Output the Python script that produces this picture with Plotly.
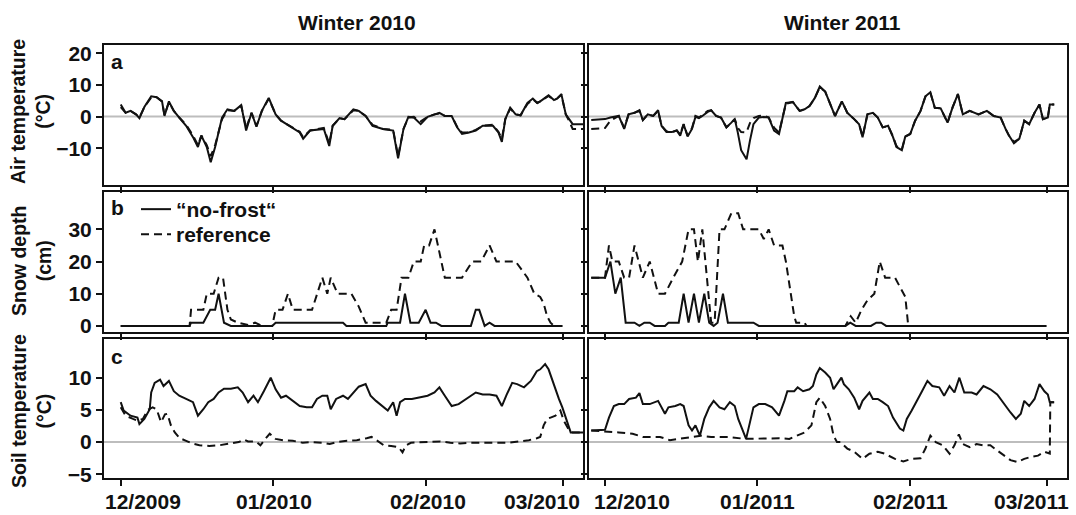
import plotly.graph_objects as go

W, H = 1076, 515

# ---------------- data (day index counted from 1 December of each winter) ----------------
tick_day_2010 = [0, 31, 62, 90]
tick_day_2011 = [0, 31, 62, 90]
label_text_2010 = ["12/2009", "01/2010", "02/2010", "03/2010"]
label_day_2010 = [4.5, 31.1, 62.4, 85.6]
label_text_2011 = ["12/2010", "01/2011", "02/2011", "03/2011"]
label_day_2011 = [5.4, 31.1, 62.2, 86.8]

air_ticks = [-10, 0, 10, 20]
snow_ticks = [0, 10, 20, 30]
soil_ticks = [-5, 0, 5, 10]

# --- air temperature, winter 2010 ---
air10_day = [0, 1.0, 2.0, 3.1, 3.8, 4.8, 6.2, 7.3, 8.4, 8.9, 9.8, 10.8, 11.9, 13.3, 14.7, 15.7, 16.4,
             17.5, 18.3, 19.2, 20.6, 21.7, 23.1, 24.5, 25.5, 26.6, 27.6, 28.7, 30.1, 31.5, 32.6, 34.3,
             36.4, 37.1, 38.5, 41.3, 42.4, 43.1, 44.5, 45.5, 47.3, 48.4, 49.8, 51.2, 53.3, 55.4, 56.4,
             57.5, 58.5, 59.6, 61.0, 62.4, 63.8, 64.8, 65.9, 67.3, 68.4, 69.4, 70.8, 72.2, 73.6, 75.7,
             76.8, 77.5, 78.2, 79.2, 80.3, 81.3, 82.7, 83.8, 84.7, 85.3, 87.0, 88.1, 88.75, 89.6,
             90.5, 91.2, 91.9, 94.2]
air10_nofrost = [3.8, 1.2, 1.8, 0.7, -0.5, 3.0, 6.4, 6.1, 4.8, 0.2, 4.8, 1.8, -0.3, -2.9, -6.5, -9.6, -6.0,
                 -9.6, -14.4, -9.6, -0.3, 2.3, 1.8, 3.6, -4.4, 1.2, -3.2, 1.8, 5.9, 0.7, -1.3, -2.9,
                 -5.0, -7.0, -4.4, -3.9, -9.3, -2.9, -0.5, -0.8, 2.3, 1.8, 0.2, -2.9, -3.9, -4.4, -13.2,
                 -3.9, -0.1, -0.3, -2.4, -0.1, 0.7, 1.2, 0.2, 0.2, -3.4, -5.5, -5.0, -4.4, -2.9, -2.9,
                 -5.0, -8.0, -0.8, 2.8, 0.7, 0.4, 4.3, 5.7, 4.3, 4.8, 6.7, 5.2, 5.7, 7.1,
                 0.7, -0.8, -2.4, -2.4]
air10_ref = [3.0, 1.2, 1.8, 0.7, -0.3, 3.0, 6.0, 6.1, 4.8, 0.5, 4.5, 1.8, -0.3, -2.6, -6.0, -9.0, -6.0,
             -9.0, -12.5, -9.0, -0.8, 2.0, 1.8, 3.4, -3.6, 1.2, -3.0, 1.8, 5.6, 0.7, -1.3, -2.9,
             -4.8, -6.5, -4.4, -3.6, -8.5, -2.9, -0.5, -0.8, 2.0, 1.8, 0.2, -2.6, -3.9, -4.2, -12.5,
             -3.9, -0.3, -0.1, -1.5, -0.1, 0.7, 1.0, 0.2, 0.2, -3.2, -5.0, -5.0, -4.2, -2.9, -2.6,
             -4.8, -7.0, -0.8, 2.5, 0.7, 0.4, 4.0, 5.5, 4.3, 4.8, 6.5, 5.2, 5.7, 6.8,
             0.7, -1.5, -3.9, -3.9]

# --- air temperature, winter 2011 ---
air11_day = [-2.8, 0, 1.1, 2.1, 2.8, 3.9, 4.8, 6.0, 7.0, 7.7, 8.7, 9.8, 10.8, 11.5, 12.5, 13.6, 14.6, 15.3,
             16.0, 16.8, 17.7, 18.4, 19.1, 19.8, 20.9, 21.6, 22.6, 23.6, 24.7, 25.7, 26.4, 27.0, 27.7,
             28.5, 28.8, 29.5, 30.2, 31.3, 32.3, 33.3, 34.4, 35.4, 36.1, 36.8, 38.2, 39.6, 40.6, 41.6,
             42.7, 43.7, 44.8, 45.8, 46.8, 48.2, 49.3, 50.7, 51.7, 52.4, 53.4, 54.5, 55.5, 56.5, 57.6,
             58.6, 59.3, 60.4, 61.1, 62.1, 63.1, 64.2, 65.2, 66.2, 67.1, 68.3, 69.7, 70.7, 71.8, 72.8,
             74.2, 76.0, 77.7, 79.1, 80.5, 81.5, 82.2, 83.2, 84.3, 85.3, 86.3, 87.4, 88.4, 89.1, 90.1,
             90.5, 91.4]
air11_nofrost = [-1.1, -0.8, -0.3, 0, 0.2, -3.9, 0.7, 1.2, 2.0, -1.1, 0.7, 0.2, 2.0, -2.9, -4.9, -4.9, -4.4,
                 -6.0, -2.4, -6.3, -3.9, -0.1, -0.5, 0.2, 1.5, 2.0, 0.2, -0.3, -3.4, -1.9, -0.8, -4.9,
                 -10.6, -12.7, -13.5, -7.5, -2.4, -0.3, -0.1, -0.3, -4.4, -5.5, -0.8, 4.3, 4.6, 1.8, 2.3,
                 3.3, 5.9, 9.5, 7.9, 3.8, 0.2, 4.8, 1.2, -0.8, -2.4, -6.5, 0.7, 1.2, -0.3, -3.4, -2.9,
                 -6.5, -9.6, -10.6, -6.3, -5.5, -1.3, 1.8, 6.4, 7.7, 2.8, 2.6, -1.9, 2.8, 7.1, 0.7,
                 1.8, 0.7, 1.8, 0.2, -0.3, -3.9, -6.0, -8.4, -7.0, -1.3, -2.4, 1.2, 3.8, -0.8, -0.3,
                 3.8, 3.8]
air11_ref = [-3.9, -3.6, -1.3, -0.3, 0.2, -3.5, 0.7, 1.2, 1.8, -1.1, 0.7, 0.2, 1.8, -2.9, -4.6, -4.9, -4.4,
             -5.6, -2.4, -6.0, -3.6, 0.2, -0.3, 0.4, 1.8, 2.0, 0.2, -0.3, -3.4, -1.9, -0.8, -3.5,
             -4.9, -5.0, -4.9, -2.0, -0.5, 0.2, 0.3, -0.3, -3.5, -5.0, -0.8, 4.0, 4.6, 1.8, 2.3,
             3.3, 5.9, 9.2, 7.9, 3.8, 0.2, 4.8, 1.2, -0.8, -2.4, -6.3, 0.7, 1.2, -0.3, -3.4, -2.9,
             -6.3, -9.3, -10.3, -6.3, -5.5, -1.3, 1.8, 6.4, 7.5, 2.8, 2.6, -1.9, 2.8, 7.1, 0.7,
             1.8, 0.7, 1.8, 0.2, -0.3, -3.9, -6.0, -8.0, -7.0, -1.3, -2.4, 1.2, 3.8, -0.8, -0.3,
             3.8, 3.8]

# --- snow depth, winter 2010 ---
snow10_nf_day = [0, 14.0, 14.3, 16.8, 18.2, 19.2, 19.9, 21.0, 22.4, 30.8, 31.5, 45.2, 45.9, 54.0, 54.3,
                 56.8, 57.8, 58.9, 60.6, 62.0, 63.0, 64.1, 65.2, 71.2, 72.2, 72.9, 74.0, 75.0, 76.0, 89.8]
snow10_nofrost = [0, 0, 1, 1, 5, 5, 10, 1, 0, 0, 1, 1, 0, 0, 1,
                  1, 10, 1, 1, 5, 1, 1, 0, 0, 5, 5, 0, 1, 0, 0]
snow10_ref_day = [0, 14.0, 14.3, 16.8, 17.5, 18.9, 19.9, 20.8, 21.7, 22.4, 23.8, 25.9, 27.3, 28.7, 30.8,
                  31.5, 32.9, 34.0, 35.0, 38.9, 41.0, 42.0, 42.7, 44.1, 46.9, 48.4, 49.8, 54.0, 55.0,
                  56.1, 57.1, 58.5, 59.6, 61.0, 61.7, 62.7, 63.8, 65.9, 69.4, 71.5, 73.3, 75.0, 76.4,
                  80.3, 82.7, 84.1, 85.3, 86.0, 86.7, 87.4, 88.1, 89.8]
snow10_ref = [0, 0, 5, 5, 10, 10, 15, 15, 5, 2, 1, 0.3, 1, 0, 0,
              5, 5, 10, 5, 5, 15, 10, 15, 10, 10, 6, 1, 1, 5,
              5, 15, 15, 20, 20, 25, 25, 30, 15, 15, 20, 20, 25, 20,
              20, 15, 10, 9, 7, 3, 1, 0, 0]

# --- snow depth, winter 2011 ---
snow11_nf_day = [-2.8, 0, 1.1, 2.1, 3.2, 4.2, 6.0, 7.0, 8.0, 9.1, 10.1, 12.2, 12.9, 15.0, 16.0, 17.0, 18.1,
                 19.1, 20.2, 21.2, 22.1, 22.9, 24.0, 25.0, 30.2, 31.3, 48.9, 49.9, 51.0, 54.1, 55.2, 56.2,
                 57.2, 89.8]
snow11_nofrost = [15, 15, 20, 10, 15, 1, 1, 0, 1, 1, 0, 0, 1, 1, 10, 1, 10,
                  1, 10, 1, 0, 1, 10, 1, 1, 0, 0, 1, 0, 0, 1, 1,
                  0, 0]
snow11_ref_day = [-2.8, 0, 0.8, 1.5, 2.8, 3.9, 4.9, 6.0, 7.7, 9.1, 10.8, 12.2, 13.9, 15.7, 17.0, 18.1, 18.9,
                  19.8, 21.6, 22.3, 23.3, 24.3, 25.7, 27.1, 28.1, 31.3, 32.3, 33.3, 34.4, 36.1, 36.8, 38.5,
                  38.9, 40.6, 41.0, 48.9, 50.0, 51.0, 52.2, 53.4, 54.8, 55.9, 57.0, 59.0, 61.1, 61.7, 89.8]
snow11_ref = [15, 15, 25, 20, 20, 15, 15, 25, 15, 20, 10, 10, 15, 20, 30, 30, 20,
              30, 1, 1, 30, 30, 35, 35, 30, 30, 27, 30, 25, 25, 20, 3,
              1, 1, 0, 0, 3, 1, 5, 8, 10, 20, 15, 15, 9, 0, 0]

# --- soil temperature, winter 2010 ---
soil10_nf_day = [0, 0.6, 2.0, 3.4, 3.8, 4.8, 5.9, 6.2, 6.9, 8.0, 8.7, 9.8, 10.8, 11.9, 13.3, 14.7, 15.7, 16.8,
                 17.8, 18.9, 19.9, 21.0, 22.4, 23.8, 24.8, 25.9, 27.0, 27.9, 29.1, 30.5, 31.5, 32.6, 33.6,
                 35.0, 36.4, 37.8, 38.9, 39.9, 41.0, 42.0, 42.7, 43.8, 45.2, 46.2, 47.3, 48.4, 49.8, 50.8,
                 51.9, 53.3, 54.3, 55.4, 56.1, 56.8, 57.8, 59.2, 60.6, 62.4, 63.8, 64.8, 65.9, 67.3, 68.7,
                 70.5, 72.2, 73.6, 75.0, 76.4, 77.5, 78.5, 79.6, 80.6, 82.0, 83.4, 84.6, 85.3, 86.3, 87.0,
                 88.1, 89.1, 89.8, 90.8, 91.5, 94.2]
soil10_nofrost = [6.2, 4.9, 4.1, 3.8, 2.8, 3.6, 5.1, 7.7, 9.2, 9.7, 8.7, 9.5, 7.9, 7.2, 6.7, 6.2, 4.1, 5.1,
                  6.2, 6.7, 7.7, 8.3, 8.3, 8.5, 7.7, 6.2, 7.2, 6.2, 7.9, 10.0, 8.2, 6.9, 7.2,
                  6.4, 5.6, 5.4, 5.4, 6.7, 7.2, 7.2, 5.1, 6.7, 7.2, 6.7, 7.7, 8.6, 9.0, 7.2,
                  6.4, 5.6, 4.9, 6.2, 4.1, 6.2, 6.7, 6.7, 6.9, 7.2, 7.7, 8.5, 7.2, 5.6, 5.9,
                  6.9, 7.7, 7.4, 7.4, 7.2, 5.6, 7.4, 9.2, 9.0, 8.5, 9.5, 11.0, 11.3, 12.1, 11.3,
                  8.7, 6.7, 5.4, 3.1, 1.5, 1.5]
soil10_ref_day = [0, 1.0, 2.5, 3.5, 4.5, 5.5, 6.5, 7.3, 8.2, 9.0, 9.5, 10.2, 11.0, 12.0, 13.3, 14.5, 16.0,
                  18.0, 20.0, 22.0, 24.0, 25.0, 25.9, 27.5, 28.4, 29.5, 30.3, 31.5, 33.0, 35.0, 37.0, 39.0,
                  41.0, 42.5, 44.0, 46.0, 48.0, 50.0, 51.0, 52.0, 53.5, 55.0, 56.5, 57.3, 58.0, 59.0, 61.0,
                  63.0, 65.0, 67.0, 69.0, 71.0, 73.0, 75.0, 77.0, 79.0, 81.0, 83.0, 84.6, 85.3, 86.0, 86.7,
                  87.4, 88.4, 89.4, 90.1, 91.2, 91.9, 94.2]
soil10_ref = [5.4, 4.1, 3.6, 3.3, 3.6, 5.0, 5.4, 5.1, 3.1, 4.3, 4.4, 2.6, 1.5, 0.6, 0.2, -0.2, -0.5,
              -0.6, -0.5, -0.3, 0.0, 0.4, 0.1, 0.1, -0.5, 0.6, 1.3, 0.5, 0.3, 0.2, -0.1, 0.0,
              -0.1, -0.3, 0.0, 0.2, 0.3, 0.6, 0.8, 0.3, -0.5, -0.6, -0.8, -1.6, -0.5, -0.1, 0.0,
              0.0, 0.1, -0.1, -0.2, -0.1, -0.1, -0.1, -0.2, -0.1, 0.1, 0.3, 0.6, 0.8, 2.6, 3.6,
              3.8, 4.1, 4.9, 3.3, 1.8, 1.5, 1.5]

# --- soil temperature, winter 2011 ---
soil11_nf_day = [-2.8, 0, 0.8, 1.8, 2.8, 3.9, 4.9, 6.3, 7.0, 7.7, 9.1, 10.8, 12.2, 12.9, 14.3, 15.3, 16.0,
                 17.0, 17.7, 18.4, 19.3, 20.2, 21.2, 22.1, 23.3, 24.3, 25.4, 26.4, 27.1, 27.8, 28.7, 29.5,
                 30.2, 31.3, 32.6, 34.0, 35.4, 36.5, 37.1, 38.5, 39.2, 40.3, 41.6, 42.3, 43.0, 43.7, 44.8,
                 45.8, 46.5, 47.2, 48.1, 48.6, 49.6, 50.7, 51.7, 52.4, 53.8, 54.5, 55.5, 56.5, 57.6, 58.6,
                 60.0, 60.7, 61.4, 62.4, 63.5, 64.5, 65.6, 66.6, 68.0, 69.0, 70.1, 71.1, 72.1, 73.1, 74.6,
                 75.6, 77.0, 78.4, 79.8, 81.2, 82.5, 83.6, 84.6, 85.3, 86.3, 87.4, 88.4, 89.4, 90.1, 90.5,
                 91.4]
soil11_nofrost = [1.8, 1.9, 3.8, 5.6, 5.9, 5.9, 6.7, 6.9, 7.6, 5.9, 5.9, 6.4, 4.4, 5.4, 5.6, 5.9, 5.6,
                  2.6, 1.8, 2.6, 1.0, 3.6, 5.4, 6.4, 5.4, 5.1, 6.2, 5.6, 3.6, 2.1, 0.5, 3.1,
                  5.4, 5.9, 5.9, 5.4, 4.1, 6.4, 7.9, 7.9, 8.5, 7.9, 8.2, 8.7, 10.5, 11.5, 10.8,
                  10.0, 8.2, 9.0, 10.0, 9.0, 8.2, 6.9, 5.1, 6.4, 7.7, 6.7, 6.7, 6.2, 5.6, 3.8,
                  2.1, 1.8, 3.6, 4.9, 6.4, 7.9, 9.5, 8.7, 8.5, 7.2, 8.7, 7.7, 10.0, 7.7, 7.7,
                  7.4, 8.7, 8.2, 7.4, 5.9, 4.6, 3.6, 4.4, 6.4, 5.6, 6.7, 9.0, 7.9, 7.4, 6.2,
                  6.2]
soil11_ref_day = [-2.8, 0, 2.8, 5.6, 7.7, 9.8, 11.2, 13.2, 16.0, 18.1, 19.5, 21.6, 25.0, 28.5, 31.9, 35.4,
                  37.5, 38.9, 40.6, 42.0, 43.0, 43.7, 44.8, 45.8, 46.5, 47.2, 47.9, 49.3, 50.7, 52.4, 53.8,
                  55.5, 56.9, 59.0, 60.7, 62.4, 64.2, 65.2, 66.2, 67.3, 68.7, 70.1, 71.1, 72.0, 72.8, 74.2,
                  75.6, 77.0, 78.4, 79.8, 81.2, 82.5, 83.9, 85.3, 86.7, 88.1, 89.4, 90.5, 90.6, 91.4]
soil11_ref = [1.8, 1.7, 1.5, 1.3, 0.8, 0.8, 0.8, 0.3, 0.6, 0.8, 1.0, 0.8, 0.8, 0.5, 0.6, 0.6,
              0.5, 1.0, 1.5, 2.6, 6.2, 6.9, 5.6, 3.6, 1.0, 0.0, 0.0, -1.0, -1.5, -2.6, -1.8,
              -1.5, -1.8, -2.6, -3.0, -2.6, -2.5, -1.0, 1.0, 0.0, -0.5, -1.8, -0.5, 1.2, -0.3, -0.8,
              -0.3, -0.5, -0.5, -1.3, -2.1, -2.8, -3.1, -2.6, -2.3, -2.1, -1.5, -1.8, 6.2, 6.2]

# ---------------- layout helpers ----------------
def px_x(p):
    return p / W

def px_y(p):
    return 1 - p / H

col_dom = [[px_x(104), px_x(583)], [px_x(588.5), px_x(1067)]]
row_dom = [[px_y(185), px_y(45)], [px_y(331.7), px_y(191.7)], [px_y(478.3), px_y(339.3)]]
x_ranges = [[-3.4, 94.0], [-3.36, 94.0]]
y_ranges = [[-21.6, 22.6], [-1.8, 41.7], [-5.62, 15.96]]
y_tickvals = [air_ticks, snow_ticks, soil_ticks]
x_tickvals = [tick_day_2010, tick_day_2011]
labels = [(label_day_2010, label_text_2010), (label_day_2011, label_text_2011)]

FONT = "Liberation Sans, Arial, Helvetica, sans-serif"
INK = "#111111"
DASH = "8px,5px"

def bold(size):
    return dict(family=FONT, size=size, color=INK, weight="bold")

panels = [
    (air10_day, air10_nofrost, air10_day, air10_ref),
    (air11_day, air11_nofrost, air11_day, air11_ref),
    (snow10_nf_day, snow10_nofrost, snow10_ref_day, snow10_ref),
    (snow11_nf_day, snow11_nofrost, snow11_ref_day, snow11_ref),
    (soil10_nf_day, soil10_nofrost, soil10_ref_day, soil10_ref),
    (soil11_nf_day, soil11_nofrost, soil11_ref_day, soil11_ref),
]

fig = go.Figure()
layout = dict(
    width=W, height=H, margin=dict(l=0, r=0, t=0, b=0, autoexpand=False),
    paper_bgcolor="white", plot_bgcolor="white",
    font=dict(family=FONT, size=20, color=INK),
    showlegend=True,
    legend=dict(x=px_x(136), y=px_y(189), xanchor="left", yanchor="top",
                bgcolor="rgba(0,0,0,0)", borderwidth=0, font=bold(21), itemwidth=30),
    legend2=dict(x=px_x(136), y=px_y(214), xanchor="left", yanchor="top",
                 bgcolor="rgba(0,0,0,0)", borderwidth=0, font=bold(21), itemwidth=30),
)
shapes = []
annotations = []

for i, (dn, vn, dr, vr) in enumerate(panels):
    r, c = divmod(i, 2)
    k = i + 1
    xa = "x" if k == 1 else f"x{k}"
    ya = "y" if k == 1 else f"y{k}"
    legend_on = (i == 2)
    fig.add_trace(go.Scatter(x=dn, y=vn, mode="lines", xaxis=xa, yaxis=ya,
                             line=dict(color=INK, width=2),
                             name="\u201cno-frost\u201c", showlegend=legend_on, legend="legend"))
    fig.add_trace(go.Scatter(x=dr, y=vr, mode="lines", xaxis=xa, yaxis=ya,
                             line=dict(color=INK, width=2, dash=DASH),
                             name="reference", showlegend=legend_on, legend="legend2"))
    axis_common = dict(showline=True, linecolor=INK, linewidth=2, mirror=True,
                       ticks="outside", ticklen=6, tickwidth=2, tickcolor=INK,
                       showgrid=False, zeroline=False, automargin=False,
                       tickfont=bold(21))
    layout[f"xaxis{k if k > 1 else ''}"] = dict(
        axis_common, domain=col_dom[c], anchor=ya, range=x_ranges[c],
        tickmode="array", tickvals=x_tickvals[c], showticklabels=False)
    layout[f"yaxis{k if k > 1 else ''}"] = dict(
        axis_common, domain=row_dom[r], anchor=xa, range=y_ranges[r],
        tickmode="array", tickvals=y_tickvals[r], showticklabels=(c == 0))
    if r != 1:
        shapes.append(dict(type="line", xref=f"{xa} domain", yref=ya, x0=0, x1=1, y0=0, y1=0,
                           line=dict(color="#bdbdbd", width=2), layer="below"))
    if r == 2:
        for d, t in zip(*labels[c]):
            annotations.append(dict(text=t, x=d, xref=xa, y=px_y(501), yref="paper",
                                    showarrow=False, xanchor="center", yanchor="middle",
                                    font=bold(21)))

# column titles
for txt, xc in [("Winter 2010", 357), ("Winter 2011", 842)]:
    annotations.append(dict(text=txt, x=px_x(xc), y=px_y(22), xref="paper", yref="paper",
                            showarrow=False, xanchor="center", yanchor="middle", font=bold(21)))
# y titles
for txt, yc in [("Air temperature<br>(°C)", 112), ("Snow depth<br>(cm)", 261),
                ("Soil temperature<br>(°C)", 411)]:
    annotations.append(dict(text=txt, x=px_x(31), y=px_y(yc), xref="paper", yref="paper",
                            showarrow=False, xanchor="center", yanchor="middle", textangle=-90,
                            font=bold(19.5)))
# panel letters
for txt, yc in [("a", 61), ("b", 207), ("c", 356)]:
    annotations.append(dict(text=txt, x=px_x(109), y=px_y(yc), xref="paper", yref="paper",
                            showarrow=False, xanchor="left", yanchor="middle", font=bold(21)))

layout["shapes"] = shapes
layout["annotations"] = annotations
fig.update_layout(**layout)
fig.write_html("out.html")
